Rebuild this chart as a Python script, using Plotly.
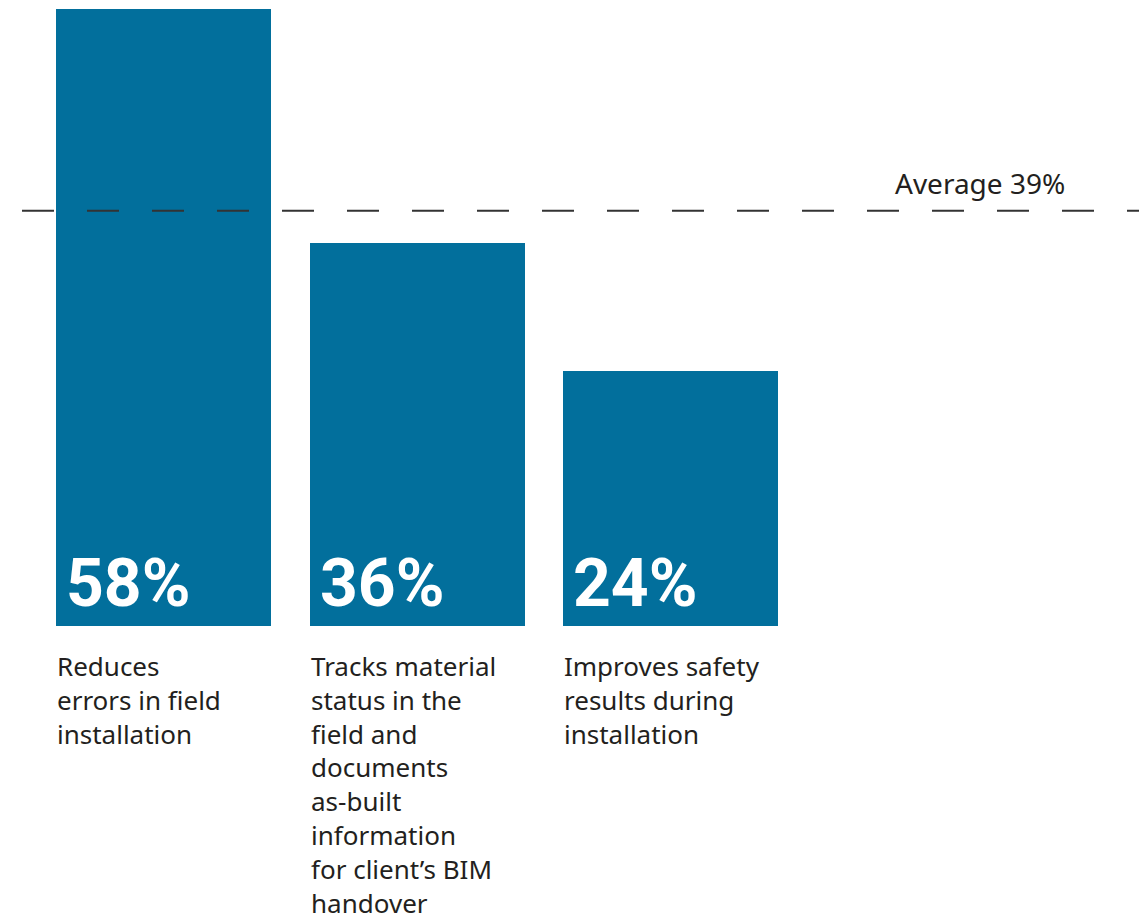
import plotly.graph_objects as go

# chart data
labels = [
    "Reduces<br>errors in field<br>installation",
    "Tracks material<br>status in the<br>field and<br>documents<br>as-built<br>information<br>for client’s BIM<br>handover",
    "Improves safety<br>results during<br>installation",
]
values = [58, 36, 24]
average = 39
positions = [0, 1, 2]

bar_color = "#026f9c"
text_color = "#231f20"
bar_w = 0.848

fig = go.Figure()

fig.add_trace(go.Bar(
    x=positions,
    y=values,
    width=bar_w,
    marker_color=bar_color,
    marker_line_width=0,
    hoverinfo="skip",
    showlegend=False,
))

# dashed average line
fig.add_shape(type="line",
              xref="paper", yref="y",
              x0=0.0122, x1=1.02, y0=average, y1=average,
              line=dict(color="#333333", width=2, dash="32px,33px"),
              layer="above")

fig.add_annotation(text=f"Average {average}%",
                   xref="paper", yref="y",
                   x=0.9233, y=average,
                   xanchor="right", yanchor="bottom",
                   yshift=7, showarrow=False,
                   font=dict(family="Noto Sans", size=28, color=text_color))

# percentage labels inside bars, and category labels below
for p, v, lab in zip(positions, values, labels):
    fig.add_annotation(text=f"<b>{v}%</b>",
                       x=p - bar_w / 2, y=0,
                       xanchor="left", yanchor="bottom",
                       xshift=8, yshift=2, showarrow=False,
                       font=dict(family="Liberation Sans Narrow, Roboto",
                                 size=66, color="white"))
    fig.add_annotation(text=lab,
                       x=p - bar_w / 2, y=0,
                       xanchor="left", yanchor="top",
                       xshift=-1, yshift=-20, showarrow=False,
                       align="left",
                       font=dict(family="Noto Sans", size=26, color=text_color))

fig.update_xaxes(range=[-0.6134, 3.911], visible=False, fixedrange=True)
fig.update_yaxes(range=[0, 58.05], visible=False, fixedrange=True)

fig.update_layout(
    width=1147, height=921,
    margin=dict(l=0, r=0, t=0, b=303),
    plot_bgcolor="white",
    paper_bgcolor="white",
    bargap=0,
)

fig.write_html("out.html")
